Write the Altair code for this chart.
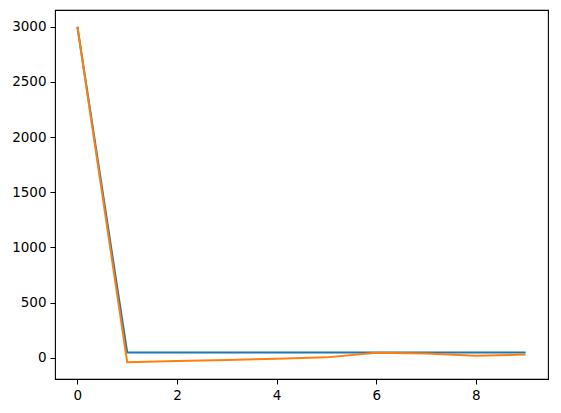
import altair as alt
import pandas as pd

x_vals = [0, 1, 2, 3, 4, 5, 6, 7, 8, 9]
blue_vals = [3000, 48, 48, 48, 48, 48, 48, 48, 48, 48]
orange_vals = [3000, -40, -30, -19, -8, 4, 45, 40, 18, 30]

df = pd.DataFrame({"x": x_vals, "blue": blue_vals, "orange": orange_vals})

xscale = alt.Scale(domain=[-0.45, 9.45], nice=False, zero=False)
yscale = alt.Scale(domain=[-192, 3152], nice=False, zero=False)

xaxis = alt.Axis(values=[0, 2, 4, 6, 8], grid=False, title=None, tickSize=5,
                 labelPadding=4, labelFontSize=13.5, labelFont="DejaVu Sans",
                 labelColor="black", tickColor="black", domain=False, format="d")
yaxis = alt.Axis(values=[0, 500, 1000, 1500, 2000, 2500, 3000], grid=False, title=None,
                 tickSize=5, labelPadding=4, labelFontSize=13.5, labelFont="DejaVu Sans",
                 labelColor="black", tickColor="black", domain=False, format="d")

base = alt.Chart(df)
blue = base.mark_line(color="#1f77b4", strokeWidth=2).encode(
    x=alt.X("x:Q", scale=xscale, axis=xaxis),
    y=alt.Y("blue:Q", scale=yscale, axis=yaxis),
)
orange = base.mark_line(color="#ff7f0e", strokeWidth=2).encode(
    x=alt.X("x:Q", scale=xscale),
    y=alt.Y("orange:Q", scale=yscale),
)

chart = alt.layer(blue, orange).properties(
    width=493, height=369,
    autosize=alt.AutoSizeParams(type="none"),
    padding={"left": 47, "top": 2, "right": 5, "bottom": 30},
).configure_view(stroke="black", strokeWidth=1.1)

chart.save("out.html", embed_options={"renderer": "svg", "actions": False})
